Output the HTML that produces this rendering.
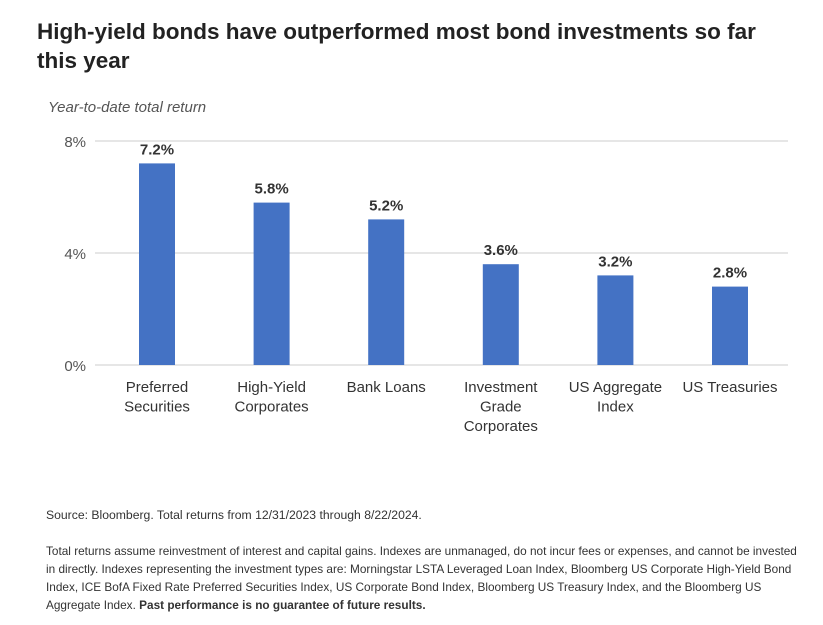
<!DOCTYPE html>
<html><head><meta charset="utf-8"><style>
body{margin:0;width:823px;height:625px;background:#fff;font-family:"Liberation Sans",sans-serif;overflow:hidden;position:relative}
.t{position:absolute;left:37px;top:17px;width:760px;font-size:22.5px;font-weight:bold;color:#222;line-height:29px}
.fn{position:absolute;left:46px;font-size:11.8px;color:#333;line-height:18px;white-space:nowrap}
svg{position:absolute;left:0;top:0}
</style></head><body>
<div class="t">High-yield bonds have outperformed most bond investments so far this year</div>
<svg width="823" height="500">
<text x="48" y="112" font-size="15" font-style="italic" fill="#555">Year-to-date total return</text>
<g id="grid"></g><g id="bars"></g>
</svg>
<div class="fn" style="top:506px;font-size:12.2px">Source: Bloomberg. Total returns from 12/31/2023 through 8/22/2024.</div>
<div class="fn" style="top:542px">Total returns assume reinvestment of interest and capital gains. Indexes are unmanaged, do not incur fees or expenses, and cannot be invested<br>in directly. Indexes representing the investment types are: Morningstar LSTA Leveraged Loan Index, Bloomberg US Corporate High-Yield Bond<br>Index, ICE BofA Fixed Rate Preferred Securities Index, US Corporate Bond Index, Bloomberg US Treasury Index, and the Bloomberg US<br>Aggregate Index. <b>Past performance is no guarantee of future results.</b></div>
<script>
const categories=[["Preferred","Securities"],["High-Yield","Corporates"],["Bank Loans"],["Investment","Grade","Corporates"],["US Aggregate","Index"],["US Treasuries"]];
const values=[7.2,5.8,5.2,3.6,3.2,2.8];
const ticks=[0,4,8];
const NS="http://www.w3.org/2000/svg";
const y=v=>365-v*28;
const x=i=>157+i*114.6;
function mk(t,a,p){const e=document.createElementNS(NS,t);for(const k in a)e.setAttribute(k,a[k]);p.appendChild(e);return e;}
const g=document.getElementById('grid'),b=document.getElementById('bars');
ticks.forEach(v=>{
 const l=mk('line',{x1:95,x2:788,y1:y(v),y2:y(v),stroke:'#ccc','stroke-width':1},g);
 
 
 const t=mk('text',{x:86,y:y(v)+6,'text-anchor':'end','font-size':15,fill:'#555'},g);
 t.textContent=v+'%';
 
 
});
values.forEach((v,i)=>{
 const r=mk('rect',{x:x(i)-18,y:y(v),width:36,height:y(0)-y(v),fill:'#4472c4'},b);
 
 
 const t=mk('text',{x:x(i),y:y(v)-9,'text-anchor':'middle','font-size':15,'font-weight':'bold',fill:'#333'},b);
 t.textContent=v.toFixed(1)+'%';
 
 
 categories[i].forEach((s,j)=>{
  const c=mk('text',{x:x(i),y:392+j*19.5,'text-anchor':'middle','font-size':15,fill:'#333'},b);
  c.textContent=s;
  
  
 });
});
</script>
</body></html>
